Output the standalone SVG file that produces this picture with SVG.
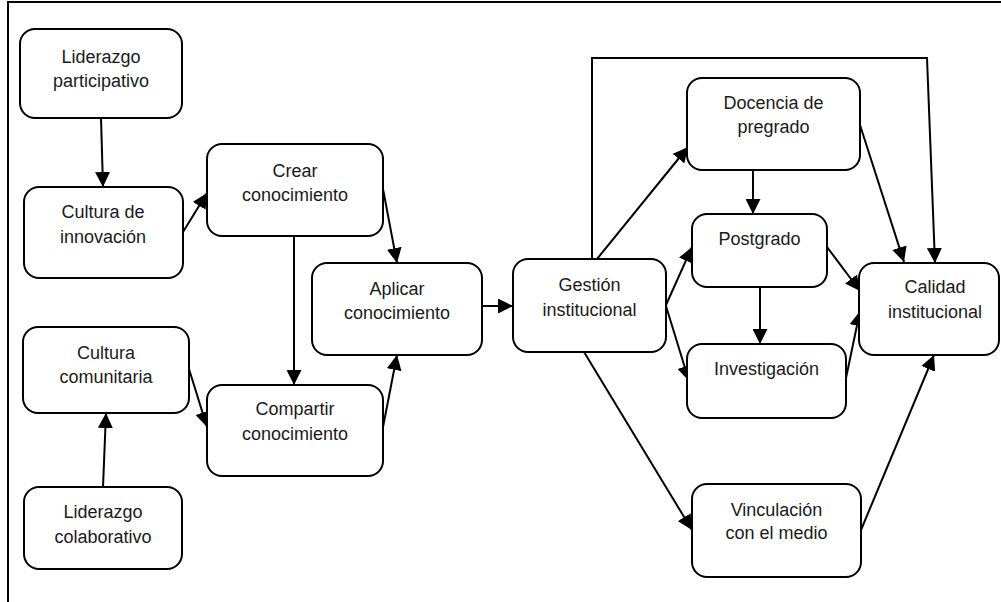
<svg xmlns="http://www.w3.org/2000/svg" width="1001" height="602" viewBox="0 0 1001 602">
<defs>
<style>
.box{fill:#fff;stroke:#000;stroke-width:2}
.t{font-family:"Liberation Sans",Arial,sans-serif;font-size:18px;fill:#1a1a1a;text-anchor:middle}
.c{fill:none;stroke:#000;stroke-width:2}
</style>
<marker id="ah" markerUnits="userSpaceOnUse" markerWidth="15" markerHeight="15" refX="15" refY="7.5" orient="auto">
<path d="M0,0 L15,7.5 L0,15 z" fill="#000"/>
</marker>
</defs>
<rect width="1001" height="602" fill="#fff"/>
<path d="M8,602 V2 H1001" fill="none" stroke="#000" stroke-width="2"/>

<g id="connectors">
<line class="c" x1="101" y1="118" x2="103" y2="187" marker-end="url(#ah)"/>
<line class="c" x1="183" y1="232" x2="207" y2="193" marker-end="url(#ah)"/>
<line class="c" x1="294" y1="236" x2="294" y2="385" marker-end="url(#ah)"/>
<line class="c" x1="189" y1="369" x2="207" y2="427" marker-end="url(#ah)"/>
<line class="c" x1="103" y1="487" x2="106" y2="413" marker-end="url(#ah)"/>
<line class="c" x1="383" y1="189" x2="397" y2="263" marker-end="url(#ah)"/>
<line class="c" x1="383" y1="427" x2="397" y2="355" marker-end="url(#ah)"/>
<line class="c" x1="482" y1="306" x2="513" y2="306" marker-end="url(#ah)"/>
<line class="c" x1="597" y1="259" x2="688" y2="147" marker-end="url(#ah)"/>
<path class="c" d="M592,259 V58 H927 L935,263" marker-end="url(#ah)"/>
<line class="c" x1="860" y1="125" x2="904" y2="262" marker-end="url(#ah)"/>
<line class="c" x1="753" y1="170" x2="753" y2="214" marker-end="url(#ah)"/>
<line class="c" x1="666" y1="305" x2="692" y2="247" marker-end="url(#ah)"/>
<line class="c" x1="666" y1="306" x2="689" y2="381" marker-end="url(#ah)"/>
<line class="c" x1="827" y1="247" x2="860" y2="291" marker-end="url(#ah)"/>
<line class="c" x1="760" y1="287" x2="760" y2="344" marker-end="url(#ah)"/>
<line class="c" x1="846" y1="378" x2="860" y2="311" marker-end="url(#ah)"/>
<line class="c" x1="584" y1="352" x2="692" y2="530" marker-end="url(#ah)"/>
<line class="c" x1="861" y1="530" x2="934" y2="355" marker-end="url(#ah)"/>
</g>

<g id="liderazgo-participativo">
<rect class="box" x="20" y="29" width="162" height="89" rx="15"/>
<text class="t" x="101" y="63">Liderazgo</text>
<text class="t" x="101" y="87">participativo</text>
</g>
<g id="cultura-innovacion">
<rect class="box" x="24" y="187" width="159" height="91" rx="15"/>
<text class="t" x="103" y="218">Cultura de</text>
<text class="t" x="103" y="243">innovación</text>
</g>
<g id="crear-conocimiento">
<rect class="box" x="207" y="144" width="176" height="92" rx="15"/>
<text class="t" x="295" y="177">Crear</text>
<text class="t" x="295" y="201">conocimiento</text>
</g>
<g id="cultura-comunitaria">
<rect class="box" x="23" y="327" width="166" height="86" rx="15"/>
<text class="t" x="106" y="359">Cultura</text>
<text class="t" x="106" y="383">comunitaria</text>
</g>
<g id="compartir-conocimiento">
<rect class="box" x="207" y="385" width="176" height="91" rx="15"/>
<text class="t" x="295" y="415">Compartir</text>
<text class="t" x="295" y="440">conocimiento</text>
</g>
<g id="liderazgo-colaborativo">
<rect class="box" x="24" y="487" width="158" height="82" rx="15"/>
<text class="t" x="103" y="518">Liderazgo</text>
<text class="t" x="103" y="543">colaborativo</text>
</g>
<g id="aplicar-conocimiento">
<rect class="box" x="312" y="263" width="170" height="92" rx="15"/>
<text class="t" x="397" y="295">Aplicar</text>
<text class="t" x="397" y="319">conocimiento</text>
</g>
<g id="gestion-institucional">
<rect class="box" x="513" y="259" width="153" height="93" rx="15"/>
<text class="t" x="589.5" y="291">Gestión</text>
<text class="t" x="589.5" y="316">institucional</text>
</g>
<g id="docencia-pregrado">
<rect class="box" x="687" y="78" width="173" height="92" rx="15"/>
<text class="t" x="773.5" y="109">Docencia de</text>
<text class="t" x="773.5" y="133">pregrado</text>
</g>
<g id="postgrado">
<rect class="box" x="692" y="214" width="135" height="73" rx="15"/>
<text class="t" x="759.5" y="245">Postgrado</text>
</g>
<g id="investigacion">
<rect class="box" x="687" y="344" width="159" height="74" rx="15"/>
<text class="t" x="766.5" y="375">Investigación</text>
</g>
<g id="vinculacion-medio">
<rect class="box" x="692" y="484" width="169" height="93" rx="15"/>
<text class="t" x="776.5" y="516">Vinculación</text>
<text class="t" x="776.5" y="539">con el medio</text>
</g>
<g id="calidad-institucional">
<rect class="box" x="859" y="263" width="140" height="92" rx="15"/>
<text class="t" x="935" y="293">Calidad</text>
<text class="t" x="935" y="318">institucional</text>
</g>
</svg>
